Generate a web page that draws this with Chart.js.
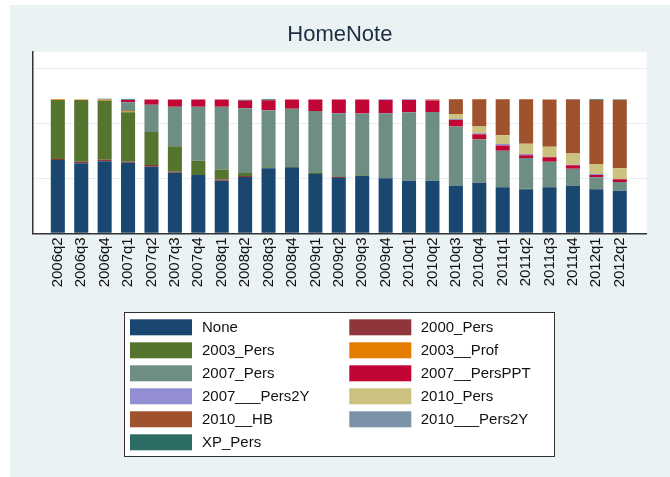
<!DOCTYPE html>
<html>
<head>
<meta charset="utf-8">
<script src="https://cdn.jsdelivr.net/npm/chart.js@4.4.1/dist/chart.umd.min.js"></script>
<style>
  body { margin: 0; background: #fff; }
  canvas { display: block; }
</style>
</head>
<body>
<canvas id="c" width="670" height="477"></canvas>
<script>
// trimestres
const quarters = ['2006q2','2006q3','2006q4','2007q1','2007q2','2007q3','2007q4','2008q1','2008q2','2008q3',
  '2008q4','2009q1','2009q2','2009q3','2009q4','2010q1','2010q2','2010q3','2010q4','2011q1','2011q2','2011q3',
  '2011q4','2012q1','2012q2'];

// valores (% por trimestre)
const none      = [54.7,52.2,53.7,52.7,49.7,45.2,43.5,39.3,42,48.5,49.3,44.3,41.3,42.8,41,39.3,39.3,35.3,37.8,34.3,32.8,34.3,35.3,32.8,31.8];
const pers2000  = [0.8,1.2,1.2,0.7,1.2,0.7,0,0.8,0.8,0,0,0,0.7,0,0,0,0,0,0,0,0,0,0,0,0];
const pers2003  = [44,46,44,37,24.6,19,10.7,7.5,2.2,0.8,0.8,0.7,0,0.6,0,0,0,0,0,0,0.5,0,0,0,0];
const prof2003  = [0.5,0.5,0.7,0.7,0,0,0,0,0,0,0,0,0,0,0,0,0,0,0,0,0,0,0,0,0];
const pers2007  = [0,0,0.4,6.7,20.4,29.6,40.3,46.9,48.3,42.5,42.8,46.3,47.5,46,48.5,51,51.3,44.3,32.4,27.3,22.9,19.1,12.9,9,6.5];
const ppt2007   = [0,0,0,1.7,4,5.3,5.3,5.3,5.7,7.5,6.9,8.5,10.3,10.4,10,9.2,8.5,5,3.7,4,2,3.3,2.5,1.7,2];
const p2y2007   = [0,0,0,0,0,0,0,0,0,0,0,0,0,0,0.5,0.5,0,0.7,0.7,1,1,0.3,0.4,0.7,0];
const pers2010  = [0,0,0,0,0,0,0,0,0,0,0,0,0,0,0,0,0,3.7,5,6.5,7.7,7.5,8.4,7.5,8.2];
const hb2010    = [0,0,0,0,0,0,0,0,0,0,0,0,0,0,0,0,0.7,11,20.4,26.9,33.1,35.3,40.3,47.8,51];
const p2y2010   = [0,0,0,0,0,0,0,0,0,0,0,0,0,0,0,0,0,0,0,0,0,0,0.4,0,0.5];
const xpPers    = [0,0,0.4,0.5,0,0,0,0,0.7,0.7,0,0,0,0,0,0,0,0,0,0,0,0,0,0.5,0];

const seriesNames = ['None','2000_Pers','2003_Pers','2003__Prof','2007_Pers','2007__PersPPT',
  '2007___Pers2Y','2010_Pers','2010__HB','2010___Pers2Y','XP_Pers'];
const seriesData = [none, pers2000, pers2003, prof2003, pers2007, ppt2007, p2y2007, pers2010, hb2010, p2y2010, xpPers];
// paleta s2color de Stata
const seriesColors = ['#1a476f','#90353b','#55752f','#e37e00','#6e8e84','#c10534',
  '#938dd2','#cac27e','#a0522d','#7b92a8','#2d6d66'];

const yGrid = [0, 41, 82.1, 123.1];
const FONT = "'Liberation Sans', Arial, sans-serif";

const datasets = seriesNames.map((name, k) => ({
  label: name,
  data: seriesData[k].map((v, i) => ({ x: i, y: v })),
  backgroundColor: seriesColors[k],
  borderWidth: 0,
  barPercentage: 1,
  categoryPercentage: 0.6
}));

// fondo del gráfico y región del plot
const backgroundPlugin = {
  id: 'fondo',
  beforeDraw(chart) {
    const { ctx, chartArea: a } = chart;
    ctx.save();
    ctx.fillStyle = '#ffffff';
    ctx.fillRect(0, 0, chart.width, chart.height);
    ctx.fillStyle = '#eaf2f3';
    ctx.fillRect(10, 5, chart.width - 10, chart.height - 5);
    ctx.fillStyle = '#ffffff';
    ctx.fillRect(a.left, a.top, a.right - a.left, a.bottom - a.top);
    ctx.restore();
  }
};

// leyenda en dos columnas con recuadro
const legendPlugin = {
  id: 'leyenda',
  afterDraw(chart) {
    const ctx = chart.ctx;
    ctx.save();
    ctx.fillStyle = '#ffffff';
    ctx.fillRect(124.5, 312.5, 430, 144);
    ctx.strokeStyle = '#333';
    ctx.lineWidth = 1;
    ctx.strokeRect(124.5, 312.5, 430, 144);
    ctx.font = '15px ' + FONT;
    ctx.textBaseline = 'middle';
    ctx.textAlign = 'left';
    chart.data.datasets.forEach((ds, i) => {
      const col = i % 2, row = Math.floor(i / 2);
      const cy = 327.3 + 23 * row;
      const sx = col ? 349.3 : 130;
      const tx = col ? 420.7 : 202;
      ctx.fillStyle = ds.backgroundColor;
      ctx.fillRect(sx, cy - 8, 62, 16);
      ctx.fillStyle = '#111';
      ctx.fillText(ds.label, tx, cy + 1);
    });
    ctx.restore();
  }
};

new Chart(document.getElementById('c'), {
  type: 'bar',
  data: { datasets },
  plugins: [backgroundPlugin, legendPlugin],
  options: {
    responsive: false,
    animation: false,
    layout: { padding: { left: 33, right: 23.3, top: 0, bottom: 183.7 } },
    plugins: {
      legend: { display: false },
      tooltip: { enabled: false },
      title: {
        display: true,
        text: 'HomeNote',
        color: '#1c2e44',
        font: { family: FONT, size: 22, weight: 'normal' },
        padding: { top: 21.8, bottom: 3.5 }
      }
    },
    scales: {
      x: {
        type: 'linear',
        stacked: true,
        offset: false,
        min: -1.06,
        max: 25.15,
        afterBuildTicks: s => { s.ticks = quarters.map((q, i) => ({ value: i })); },
        afterFit: s => { s.height = 60; },
        grid: { display: true, offset: false, drawOnChartArea: false, drawTicks: false },
        border: { display: true, color: '#333', width: 1.5 },
        ticks: {
          autoSkip: false,
          minRotation: 90,
          maxRotation: 90,
          padding: 4,
          color: '#111',
          font: { family: FONT, size: 15 },
          callback: v => quarters[v]
        }
      },
      y: {
        stacked: true,
        min: 0,
        max: 135.5,
        afterBuildTicks: s => { s.ticks = yGrid.map(v => ({ value: v })); },
        afterFit: s => { s.width = 0; },
        grid: { color: '#e6eef0', lineWidth: 1, drawTicks: false },
        border: { display: true, color: '#333', width: 1.5 },
        ticks: { display: false }
      }
    }
  }
});
</script>
</body>
</html>
